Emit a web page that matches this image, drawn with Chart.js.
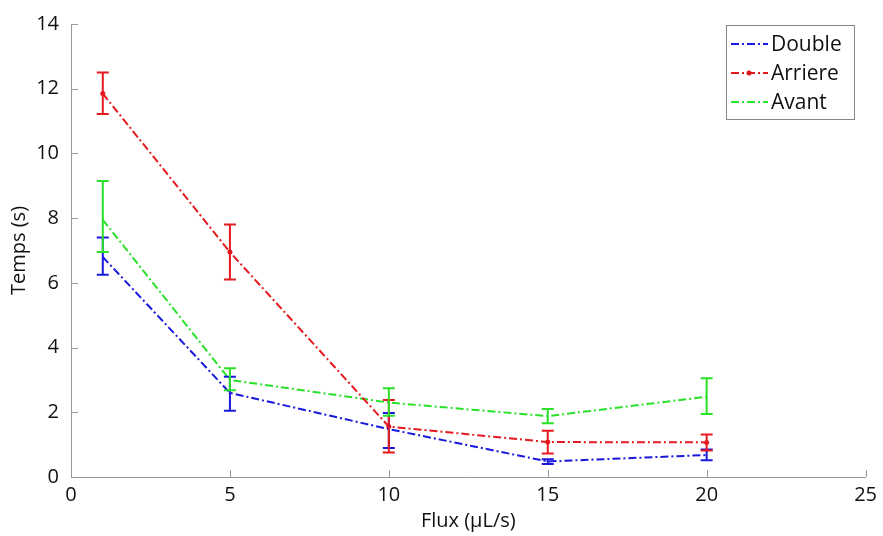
<!DOCTYPE html>
<html>
<head>
<meta charset="utf-8">
<script src="https://cdn.jsdelivr.net/npm/chart.js@4"></script>
<style>
  html, body { margin: 0; padding: 0; background: #fff; }
  #wrap { width: 883px; height: 536px; }
</style>
</head>
<body>
<div id="wrap"><canvas id="fluxChart" width="883" height="536"></canvas></div>
<script>
const flux = [1, 5, 10, 15, 20];

const doubleMean = [6.8, 2.6, 1.48, 0.48, 0.68];
const doubleLow  = [6.25, 2.05, 0.9, 0.4, 0.52];
const doubleHigh = [7.4, 3.1, 1.98, 0.55, 0.85];

const arriereMean = [11.85, 6.95, 1.56, 1.08, 1.07];
const arriereLow  = [11.22, 6.1, 0.76, 0.73, 0.82];
const arriereHigh = [12.5, 7.8, 2.38, 1.43, 1.31];

const avantMean = [7.95, 3.0, 2.3, 1.88, 2.48];
const avantLow  = [6.95, 2.68, 1.89, 1.66, 1.95];
const avantHigh = [9.15, 3.36, 2.74, 2.1, 3.05];

const xTicks = [0, 5, 10, 15, 20, 25];
const yTicks = [0, 2, 4, 6, 8, 10, 12, 14];

const blue = 'rgb(25,25,220)';
const red = 'rgb(230,25,30)';
const green = 'rgb(40,225,40)';
const dashDot = [8, 3, 2, 3];
const font = '"Open Sans", "Noto Sans", sans-serif';

function pts(means) {
  return flux.map((x, i) => ({ x: x, y: means[i] }));
}

const errorBars = {
  id: 'errorBars',
  afterDatasetsDraw(chart) {
    const ctx = chart.ctx;
    const xs = chart.scales.x, ys = chart.scales.y;
    chart.data.datasets.forEach(ds => {
      ctx.save();
      ctx.strokeStyle = ds.borderColor;
      ctx.lineWidth = 2;
      ds.low.forEach((lo, i) => {
        const px = xs.getPixelForValue(flux[i]);
        const y1 = ys.getPixelForValue(lo);
        const y2 = ys.getPixelForValue(ds.high[i]);
        ctx.beginPath();
        ctx.moveTo(px, y1); ctx.lineTo(px, y2);
        ctx.moveTo(px - 6, y1); ctx.lineTo(px + 6, y1);
        ctx.moveTo(px - 6, y2); ctx.lineTo(px + 6, y2);
        ctx.stroke();
      });
      ctx.restore();
    });
  }
};

const axisDecor = {
  id: 'axisDecor',
  afterDraw(chart) {
    const ctx = chart.ctx;
    const a = chart.chartArea;
    const xs = chart.scales.x, ys = chart.scales.y;
    ctx.save();
    ctx.strokeStyle = '#999';
    ctx.lineWidth = 1;
    ctx.beginPath();
    xTicks.forEach(v => {
      const px = Math.round(xs.getPixelForValue(v)) + 0.5;
      ctx.moveTo(px, a.bottom); ctx.lineTo(px, a.bottom - 7);
    });
    yTicks.forEach(v => {
      const py = Math.round(ys.getPixelForValue(v)) + 0.5;
      ctx.moveTo(a.left, py); ctx.lineTo(a.left + 7, py);
    });
    ctx.stroke();

    // legend
    const bx = 726, by = 25, bw = 128, bh = 94;
    ctx.fillStyle = '#fff';
    ctx.fillRect(bx, by, bw, bh);
    ctx.strokeStyle = '#888';
    ctx.strokeRect(bx + 0.5, by + 0.5, bw, bh);
    ctx.font = '21px ' + font;
    ctx.textBaseline = 'middle';
    chart.data.datasets.forEach((ds, i) => {
      const cy = by + 19 + i * 29;
      ctx.strokeStyle = ds.borderColor;
      ctx.lineWidth = 2;
      ctx.setLineDash(dashDot);
      ctx.beginPath();
      ctx.moveTo(bx + 5, cy); ctx.lineTo(bx + 42, cy);
      ctx.stroke();
      ctx.setLineDash([]);
      if (ds.pointRadius > 0) {
        ctx.fillStyle = ds.borderColor;
        ctx.beginPath();
        ctx.arc(bx + 23, cy, 2.5, 0, Math.PI * 2);
        ctx.fill();
      }
      ctx.fillStyle = '#111';
      ctx.fillText(ds.label, bx + 45, cy + 1);
    });
    ctx.restore();
  }
};

new Chart(document.getElementById('fluxChart'), {
  type: 'line',
  data: {
    datasets: [
      { label: 'Double', data: pts(doubleMean), low: doubleLow, high: doubleHigh,
        borderColor: blue, backgroundColor: blue, borderWidth: 2, borderDash: dashDot,
        pointRadius: 0 },
      { label: 'Arriere', data: pts(arriereMean), low: arriereLow, high: arriereHigh,
        borderColor: red, backgroundColor: red, borderWidth: 2, borderDash: dashDot,
        pointRadius: 2.5, pointBorderWidth: 0 },
      { label: 'Avant', data: pts(avantMean), low: avantLow, high: avantHigh,
        borderColor: green, backgroundColor: green, borderWidth: 2, borderDash: dashDot,
        pointRadius: 0 }
    ]
  },
  options: {
    responsive: false,
    animation: false,
    layout: { padding: { left: 0, right: 15, top: 18, bottom: 0 } },
    plugins: { legend: { display: false }, tooltip: { enabled: false } },
    scales: {
      x: {
        type: 'linear', min: 0, max: 25,
        afterBuildTicks: s => { s.ticks = xTicks.map(v => ({ value: v })); },
        afterFit: s => { s.height = 59; },
        grid: { display: false, drawTicks: false },
        border: { display: true, color: '#999', width: 1 },
        ticks: { color: '#111', padding: 6, font: { family: font, size: 20 } },
        title: { display: true, text: 'Flux (µL/s)', color: '#111', padding: { top: 0, bottom: 3 },
          font: { family: font, size: 20 } }
      },
      y: {
        min: 0, max: 14,
        afterBuildTicks: s => { s.ticks = yTicks.map(v => ({ value: v })); },
        afterFit: s => { s.width = 71; },
        grid: { display: false, drawTicks: false },
        border: { display: true, color: '#999', width: 1 },
        ticks: { color: '#111', padding: 12, font: { family: font, size: 20 } },
        title: { display: true, text: 'Temps (s)', color: '#111', padding: { top: 7, bottom: 0 },
          font: { family: font, size: 20 } }
      }
    }
  },
  plugins: [errorBars, axisDecor]
});
</script>
</body>
</html>
